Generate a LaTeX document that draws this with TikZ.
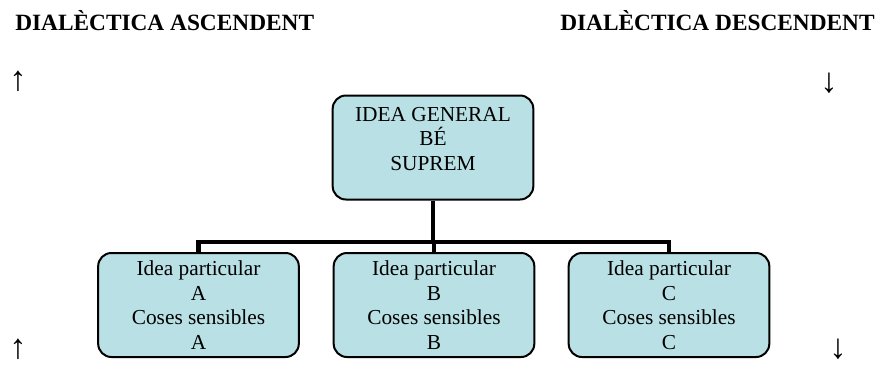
\documentclass[tikz,border=0pt]{standalone}
\usepackage{fontspec}
\setmainfont{Liberation Serif}
\definecolor{boxfill}{RGB}{185,224,228}
\begin{document}
\begin{tikzpicture}[x=0.75pt,y=-0.75pt,
  idbox/.style={draw=black,line width=1.5pt,fill=boxfill,rounded corners=10pt,
    minimum width=150.5pt,minimum height=78pt,inner sep=0pt},
  idtext/.style={align=center,font=\fontsize{16}{18.4}\selectfont,inner sep=0pt},
  ttl/.style={font=\fontsize{17.5}{20}\selectfont\bfseries,anchor=base west,inner sep=0pt},
  arr/.style={font=\fontsize{26}{28}\selectfont,inner sep=0pt},
  conn/.style={line width=3.4pt,line cap=butt,line join=miter}]
\useasboundingbox (0,0) rectangle (883,365);
\node[ttl] (t1) at (15,30) {DIALÈCTICA ASCENDENT};
\node[ttl] (t2) at (560,30) {DIALÈCTICA DESCENDENT};
\node[arr] (u1) at (18,81) {↑};
\node[arr] (u2) at (18,349) {↑};
\node[arr] (d1) at (829,83) {↓};
\node[arr] (d2) at (838,349) {↓};
\node[idbox] (top) at (433,147.5) {};
\node[idtext] (toptxt) at (433,139) {IDEA GENERAL\\BÉ\\SUPREM};
\node[idbox,align=center,font=\fontsize{16}{18.4}\selectfont] (A) at (198.5,305) {Idea particular\\A\\Coses sensibles\\A};
\node[idbox,align=center,font=\fontsize{16}{18.4}\selectfont] (B) at (434,305) {Idea particular\\B\\Coses sensibles\\B};
\node[idbox,align=center,font=\fontsize{16}{18.4}\selectfont] (C) at (669,305) {Idea particular\\C\\Coses sensibles\\C};
\coordinate (j) at (434,242);
\draw[conn] (top.south) -- (top.south |- j);
\draw[conn] (A.north) |- (j) -| (C.north);
\draw[conn] (j) -- (B.north);
\end{tikzpicture}
\end{document}
